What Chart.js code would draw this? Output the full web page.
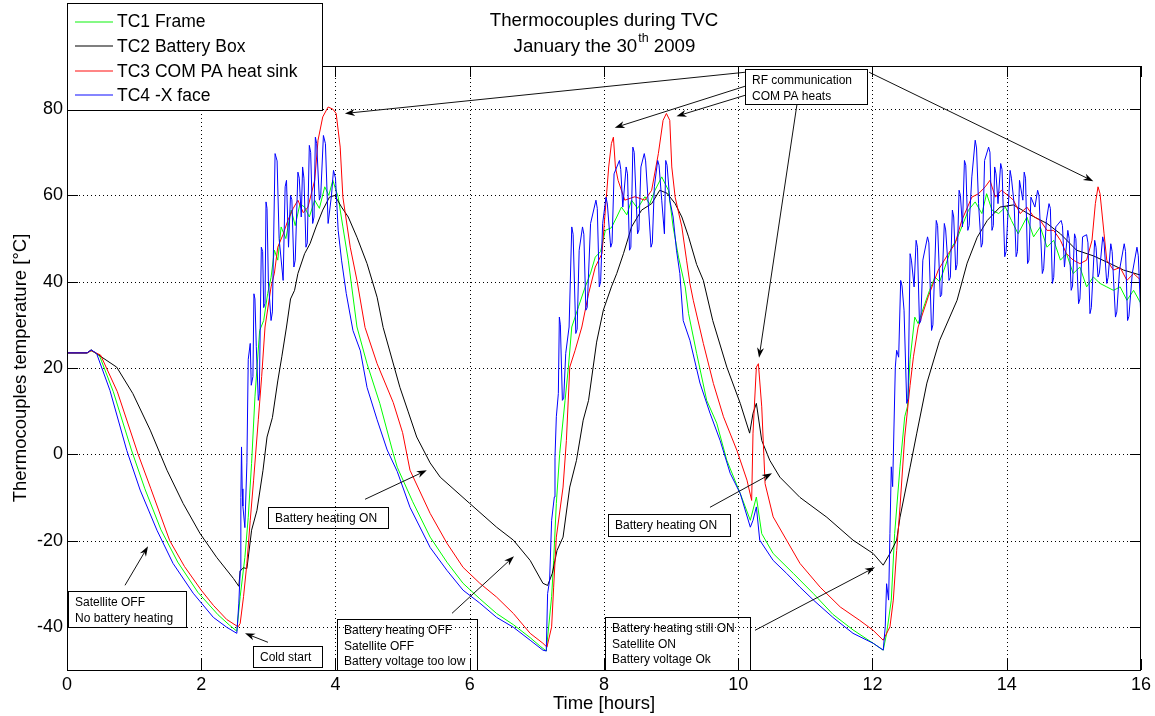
<!DOCTYPE html>
<html>
<head>
<meta charset="utf-8">
<title>Thermocouples during TVC</title>
<script src="https://cdn.jsdelivr.net/npm/chart.js@4.4.0/dist/chart.umd.min.js"></script>
<style>
  html, body { margin: 0; padding: 0; background: #fff; }
  #wrap { width: 1155px; height: 716px; position: relative; }
</style>
</head>
<body>
<div id="wrap"><canvas id="tvcChart"></canvas></div>
<script>
// axis ticks
const hourTicks = [0, 2, 4, 6, 8, 10, 12, 14, 16];
const tempTicks = [-40, -20, 0, 20, 40, 60, 80];

const seriesNames = ['TC1 Frame', 'TC2 Battery Box', 'TC3 COM PA heat sink', 'TC4 -X face'];
const seriesColors = ['#00ff00', '#000000', '#ff0000', '#0000ff'];
const legendColors = ['#5cf75c', '#555555', '#ff5c5c', '#5c5cff'];

// [hours, °C]
const tc1Frame = [
  [0, 23.5], [0.30, 23.5], [0.36, 24.0], [0.48, 23.0], [0.69, 14.5], [0.96, 1.0], [1.16, -8.0], [1.40, -17.5],
  [1.65, -25.0], [1.95, -32.0], [2.25, -37.2], [2.42, -39.6], [2.53, -41.0],
  [2.58, -33.0], [2.65, -23.9], [2.70, -14.6], [2.75, -2.1], [2.80, 13.3], [2.87, 28.7], [2.93, 31.0], [2.99, 37.3],
  [3.04, 41.0], [3.09, 47.3], [3.14, 45.0], [3.19, 52.7], [3.26, 50.0], [3.34, 56.6], [3.40, 53.0], [3.47, 58.0],
  [3.54, 57.3], [3.61, 55.0], [3.69, 58.9], [3.76, 57.0], [3.84, 62.0], [3.90, 60.0], [3.96, 63.5],
  [4.04, 59.6], [4.11, 52.7], [4.19, 45.0], [4.32, 29.5], [4.47, 21.0], [4.66, 11.8], [4.86, 0.2], [4.92, -3.0],
  [5.15, -11.0], [5.41, -19.2], [5.66, -25.0], [5.90, -29.9], [6.15, -33.5], [6.40, -36.9], [6.65, -39.5],
  [6.90, -42.5], [7.05, -44.5], [7.14, -45.6],
  [7.22, -33.0], [7.25, -24.6], [7.29, -11.4], [7.34, 0.2], [7.42, 12.5], [7.47, 20.2], [7.52, 29.5], [7.62, 34.2],
  [7.72, 38.8], [7.80, 42.0], [7.87, 45.7], [7.95, 47.0], [8.02, 51.9], [8.11, 52.5], [8.19, 55.0], [8.26, 57.3],
  [8.34, 55.5], [8.41, 58.9], [8.50, 57.0], [8.61, 59.7], [8.68, 58.0], [8.76, 61.2], [8.86, 64.3], [8.96, 61.2],
  [9.03, 52.7], [9.11, 45.7], [9.21, 38.8], [9.26, 32.6], [9.38, 23.4], [9.53, 12.5], [9.68, 7.2], [9.83, -1.4],
  [10.03, -9.1], [10.18, -15.3], [10.27, -9.9], [10.35, -18.4], [10.52, -23.0], [10.82, -27.6], [11.12, -32.3],
  [11.41, -37.1], [11.71, -40.7], [12.01, -43.8], [12.16, -45.4],
  [12.21, -41.6], [12.28, -33.8], [12.33, -18.4], [12.41, -2.9], [12.48, 8.7], [12.52, 11.0], [12.56, 22.0],
  [12.63, 31.8], [12.68, 30.3], [12.78, 34.9], [12.85, 38.0], [12.93, 41.1], [13.00, 40.0], [13.08, 43.4],
  [13.18, 48.0], [13.25, 49.6], [13.33, 52.7], [13.43, 56.6], [13.53, 58.5], [13.63, 55.8], [13.70, 60.4],
  [13.78, 56.6], [13.88, 55.8], [13.98, 57.3], [14.07, 54.2], [14.17, 51.1], [14.30, 55.0], [14.40, 50.4],
  [14.50, 52.7], [14.60, 48.0], [14.70, 49.6], [14.80, 45.0], [14.89, 46.5], [14.99, 41.9], [15.09, 43.4],
  [15.19, 38.8], [15.29, 41.1], [15.39, 39.6], [15.49, 38.8], [15.59, 38.0], [15.69, 38.8], [15.79, 35.7],
  [15.89, 38.0], [16.0, 34.9]
];

const tc2BatteryBox = [
  [0, 23.5], [0.30, 23.5], [0.36, 24.2], [0.49, 22.8], [0.74, 20.2], [0.98, 14.1], [1.24, 5.6], [1.49, -3.7],
  [1.73, -11.4], [1.98, -18.3], [2.23, -23.9], [2.48, -28.8], [2.56, -30.6],
  [2.58, -27.0], [2.63, -26.3], [2.68, -26.5], [2.75, -17.6], [2.83, -13.0], [2.92, -3.7], [2.98, 4.0], [3.06, 8.5],
  [3.14, 17.0], [3.20, 22.6], [3.27, 29.5], [3.33, 36.0], [3.39, 38.0], [3.44, 41.9], [3.54, 46.5], [3.62, 48.8],
  [3.71, 52.7], [3.81, 56.6], [3.91, 59.6], [3.99, 60.0], [4.09, 57.3], [4.19, 55.0], [4.32, 50.3], [4.47, 44.2],
  [4.62, 36.4], [4.71, 29.4], [4.96, 15.5], [5.08, 10.0], [5.21, 4.0], [5.41, -2.0], [5.56, -5.3], [6.00, -11.4],
  [6.40, -16.9], [6.65, -19.9], [6.90, -24.6], [7.09, -29.9], [7.16, -30.4],
  [7.23, -27.6], [7.30, -22.3], [7.39, -19.2], [7.49, -7.6], [7.59, -1.4], [7.69, 7.9], [7.77, 12.5], [7.89, 26.0],
  [7.99, 33.4], [8.11, 38.8], [8.19, 41.9], [8.29, 46.5], [8.41, 52.7], [8.56, 56.6], [8.71, 58.1], [8.83, 61.2],
  [8.94, 60.5], [9.06, 58.1], [9.16, 55.0], [9.26, 50.4], [9.38, 44.0], [9.48, 40.3], [9.62, 31.0], [9.83, 20.2],
  [10.03, 11.8], [10.17, 4.9], [10.22, 9.5], [10.27, 11.8], [10.35, 3.2], [10.47, -1.4], [10.62, -5.3],
  [10.92, -10.0], [11.32, -14.6], [11.71, -19.9], [12.01, -23.0], [12.16, -25.7],
  [12.26, -23.0], [12.36, -19.9], [12.41, -14.6], [12.56, -3.0], [12.66, 4.9], [12.81, 16.5], [13.00, 26.4],
  [13.26, 35.7], [13.41, 44.3], [13.56, 50.3], [13.71, 54.2], [13.90, 57.3], [14.10, 57.8], [14.35, 55.5],
  [14.60, 53.5], [14.80, 51.1], [15.04, 47.3], [15.29, 46.0], [15.54, 44.2], [15.74, 42.7], [16.0, 41.5]
];

const tc3ComPa = [
  [0, 23.5], [0.30, 23.5], [0.36, 24.0], [0.50, 23.0], [0.75, 14.5], [1.06, 0.0], [1.25, -8.0], [1.53, -20.0],
  [1.75, -26.0], [2.00, -31.5], [2.18, -35.0], [2.38, -38.3], [2.55, -40.0],
  [2.58, -39.2], [2.63, -33.0], [2.68, -25.3], [2.73, -15.3], [2.78, -6.0], [2.85, 8.0], [2.90, 18.0], [2.95, 29.5],
  [3.04, 38.8], [3.09, 42.0], [3.14, 48.0], [3.22, 51.0], [3.29, 54.2], [3.37, 57.0], [3.44, 58.9], [3.52, 56.0],
  [3.59, 57.3], [3.69, 63.5], [3.74, 72.8], [3.81, 78.2], [3.89, 80.5], [3.96, 80.0], [4.01, 79.0], [4.07, 71.2],
  [4.11, 59.6], [4.22, 48.0], [4.32, 40.3], [4.44, 29.4], [4.62, 21.0], [4.86, 12.0], [5.00, 5.0], [5.11, -3.7],
  [5.41, -13.7], [5.66, -20.6], [5.90, -26.2], [6.15, -29.9], [6.40, -33.1], [6.65, -36.9], [6.90, -41.5],
  [7.09, -43.8], [7.15, -44.7],
  [7.22, -40.0], [7.25, -30.8], [7.29, -19.2], [7.39, -7.6], [7.44, 3.2], [7.49, 20.2], [7.57, 24.1], [7.67, 29.5],
  [7.77, 37.2], [7.87, 43.4], [7.97, 46.5], [8.02, 56.6], [8.07, 66.6], [8.11, 72.0], [8.14, 73.5], [8.17, 66.6],
  [8.21, 63.5], [8.31, 58.9], [8.46, 59.7], [8.61, 58.9], [8.71, 61.2], [8.81, 69.7], [8.88, 77.4], [8.93, 79.0],
  [8.98, 77.4], [9.01, 66.6], [9.06, 59.6], [9.16, 52.7], [9.23, 45.0], [9.28, 39.6], [9.33, 35.7], [9.48, 25.7],
  [9.63, 16.4], [9.78, 8.7], [9.98, 0.9], [10.13, -6.0], [10.20, -10.7], [10.22, 4.9], [10.27, 20.2],
  [10.30, 21.0], [10.35, 11.0], [10.40, -6.8], [10.52, -14.5], [10.72, -19.9], [10.92, -25.3], [11.22, -30.8],
  [11.52, -35.4], [11.81, -38.5], [12.01, -40.8], [12.16, -43.1],
  [12.26, -40.0], [12.31, -33.8], [12.36, -22.3], [12.41, -12.2], [12.48, 4.0], [12.56, 16.0], [12.61, 22.6],
  [12.68, 29.5], [12.73, 31.8], [12.83, 36.5], [12.98, 42.7], [13.13, 46.5], [13.23, 48.8], [13.33, 54.2],
  [13.48, 59.6], [13.58, 60.4], [13.68, 62.0], [13.75, 63.5], [13.83, 59.6], [13.92, 61.2], [14.05, 59.6],
  [14.10, 58.9], [14.20, 55.8], [14.30, 57.3], [14.40, 55.1], [14.50, 54.2], [14.60, 51.9], [14.70, 51.9],
  [14.80, 49.6], [14.89, 46.5], [14.99, 45.0], [15.09, 44.2], [15.19, 45.0], [15.27, 49.6], [15.32, 58.1],
  [15.36, 62.0], [15.39, 60.4], [15.45, 51.1], [15.49, 45.0], [15.59, 42.7], [15.69, 43.3], [15.79, 40.3],
  [15.89, 41.9], [16.0, 40.3]
];

const tc4XFace = [
  [0, 23.5], [0.30, 23.5], [0.36, 24.2], [0.44, 23.4], [0.64, 14.8], [0.89, 0.9], [1.09, -8.3], [1.34, -17.6],
  [1.58, -25.3], [1.88, -32.2], [2.18, -37.8], [2.38, -40.1], [2.53, -41.5],
  [2.56, -34.5], [2.58, -27.0], [2.59, -10.0], [2.60, 1.7], [2.61, -8.0], [2.62, -12.0], [2.65, -17.0],
  [2.68, -2.0], [2.70, 22.0], [2.73, 25.7], [2.745, 16.0], [2.77, 18.0], [2.785, 37.2], [2.80, 36.0],
  [2.82, 25.0], [2.85, 12.5], [2.865, 14.0], [2.895, 48.0], [2.915, 47.0], [2.93, 34.0], [2.95, 35.0],
  [2.965, 58.5], [2.98, 57.0], [3.00, 40.0], [3.04, 31.0], [3.06, 33.0], [3.10, 69.7], [3.13, 68.0],
  [3.16, 50.0], [3.22, 40.3], [3.25, 62.0], [3.27, 63.5], [3.30, 48.0], [3.33, 60.0], [3.35, 59.0],
  [3.38, 43.4], [3.40, 45.0], [3.44, 65.4], [3.46, 64.0], [3.49, 55.0], [3.51, 66.6], [3.53, 64.0],
  [3.56, 48.0], [3.58, 49.0], [3.61, 71.6], [3.63, 70.0], [3.66, 53.5], [3.68, 55.0], [3.70, 73.5],
  [3.72, 72.0], [3.76, 58.9], [3.78, 60.0], [3.82, 73.9], [3.85, 72.0], [3.89, 53.5], [3.94, 60.0],
  [3.97, 65.8], [4.00, 64.0], [4.04, 51.9], [4.09, 45.0], [4.16, 37.3], [4.26, 28.7],
  [4.37, 24.0], [4.47, 15.5], [4.62, 8.0], [4.77, 1.0], [4.92, -4.0], [5.11, -12.3], [5.41, -21.6], [5.66, -26.9],
  [5.90, -31.5], [6.15, -34.5], [6.40, -37.8], [6.65, -40.1], [6.90, -43.1], [7.09, -45.4], [7.14, -45.6],
  [7.16, -32.3], [7.19, -29.2], [7.22, -15.3], [7.26, -9.9], [7.27, -0.7], [7.29, 8.7], [7.32, 14.1],
  [7.335, 31.8], [7.35, 30.0], [7.38, 12.5], [7.40, 13.0], [7.43, 23.4], [7.48, 29.5], [7.52, 52.7],
  [7.54, 51.0], [7.58, 28.0], [7.60, 29.0], [7.63, 47.3], [7.68, 52.7], [7.70, 51.0], [7.73, 33.4],
  [7.75, 34.0], [7.80, 53.5], [7.88, 58.9], [7.90, 57.0], [7.93, 38.8], [7.95, 40.0], [7.98, 53.5],
  [8.03, 59.6], [8.05, 58.0], [8.10, 48.0], [8.12, 49.0], [8.15, 65.0], [8.23, 68.1], [8.25, 66.0],
  [8.28, 57.3], [8.33, 66.6], [8.35, 65.0], [8.38, 47.3], [8.40, 48.0], [8.43, 71.2], [8.45, 70.0],
  [8.50, 51.1], [8.52, 52.0], [8.55, 66.6], [8.60, 69.7], [8.62, 68.0], [8.66, 58.1], [8.70, 48.0],
  [8.72, 49.0], [8.75, 62.0], [8.80, 68.1], [8.82, 67.0], [8.86, 58.9], [8.90, 51.1], [8.92, 68.1],
  [8.94, 67.0], [8.98, 58.9], [9.03, 55.0], [9.08, 47.3], [9.13, 41.9], [9.18, 31.0],
  [9.28, 26.4], [9.43, 16.5], [9.58, 9.5], [9.73, 3.2], [9.88, -4.4],
  [10.03, -9.1], [10.18, -16.9], [10.22, -15.3], [10.27, -12.2], [10.32, -19.9], [10.52, -24.6], [10.72, -27.6],
  [10.92, -30.8], [11.12, -33.8], [11.41, -37.8], [11.71, -41.5], [12.01, -43.8], [12.16, -45.4],
  [12.19, -40.0], [12.21, -30.0], [12.24, -33.8], [12.26, -18.4], [12.28, -2.9], [12.30, -7.5], [12.34, 20.2],
  [12.36, 24.1], [12.39, 22.5], [12.42, 40.3], [12.44, 39.0], [12.47, 33.4], [12.51, 11.8], [12.53, 13.0],
  [12.56, 46.5], [12.58, 45.0], [12.62, 38.8], [12.65, 49.6], [12.67, 48.0], [12.70, 30.3], [12.72, 31.0],
  [12.75, 45.0], [12.82, 50.4], [12.84, 49.0], [12.88, 28.7], [12.90, 30.0], [12.95, 54.2], [12.97, 53.0],
  [13.01, 36.5], [13.03, 37.0], [13.07, 53.5], [13.09, 52.0], [13.14, 40.3], [13.16, 41.0], [13.19, 56.6],
  [13.21, 55.0], [13.24, 42.7], [13.26, 44.0], [13.29, 61.2], [13.31, 60.0], [13.34, 52.7], [13.37, 68.1],
  [13.39, 67.0], [13.42, 51.9], [13.44, 53.0], [13.48, 64.3], [13.53, 72.8], [13.55, 71.0], [13.58, 58.1],
  [13.62, 48.0], [13.64, 49.0], [13.67, 68.1], [13.73, 71.2], [13.75, 70.0], [13.78, 51.9], [13.80, 53.0],
  [13.82, 66.6], [13.84, 65.0], [13.87, 58.1], [13.91, 67.4], [13.93, 66.0], [13.97, 45.8], [13.99, 47.0],
  [14.05, 65.8], [14.07, 64.0], [14.11, 58.0], [14.14, 45.8], [14.16, 47.0], [14.19, 63.5], [14.24, 58.9],
  [14.26, 65.4], [14.28, 64.0], [14.31, 44.2], [14.33, 45.0], [14.36, 59.6], [14.42, 57.3], [14.46, 61.2],
  [14.48, 60.0], [14.53, 41.9], [14.55, 43.0], [14.59, 54.2], [14.63, 58.1], [14.65, 57.0], [14.68, 39.6],
  [14.70, 41.0], [14.73, 52.7], [14.81, 54.2], [14.83, 53.0], [14.86, 43.4], [14.91, 51.9], [14.93, 50.0],
  [14.96, 38.0], [14.98, 39.0], [15.01, 51.1], [15.03, 50.0], [15.07, 34.9], [15.09, 36.0], [15.13, 50.4],
  [15.19, 50.9], [15.21, 49.0], [15.24, 32.6], [15.26, 34.0], [15.31, 49.6], [15.33, 48.0], [15.36, 41.1],
  [15.38, 42.0], [15.43, 50.4], [15.45, 49.0], [15.49, 39.6], [15.51, 41.0], [15.55, 48.8], [15.57, 47.0],
  [15.62, 31.8], [15.64, 33.0], [15.68, 42.7], [15.75, 48.8], [15.77, 47.0], [15.80, 31.0], [15.82, 32.0],
  [15.87, 41.9], [15.94, 48.0], [15.96, 46.0], [16.0, 31.0]
];

// text boxes and arrows, corners in [hours, °C]
const notes = [
  { lines: ['RF communication', 'COM PA heats'], from: [10.10, 89.25], to: [11.92, 81.13] },
  { lines: ['Battery heating ON'], from: [2.99, -12.29], to: [4.78, -17.15] },
  { lines: ['Satellite OFF', 'No battery heating'], from: [0.015, -31.76], to: [1.77, -40.10] },
  { lines: ['Cold start'], from: [2.77, -44.51], to: [3.80, -49.37] },
  { lines: ['Battery heating OFF', 'Satellite OFF', 'Battery voltage too low'], from: [4.022, -38.25], to: [6.108, -50.0] },
  { lines: ['Battery heating ON'], from: [8.06, -13.91], to: [9.877, -19.0] },
  { lines: ['Battery heating still ON', 'Satellite ON', 'Battery voltage Ok'], from: [8.015, -37.78], to: [10.175, -50.0] }
];
const arrows = [
  { tail: [10.10, 88.55], head: [4.14, 79.0] },
  { tail: [10.10, 85.3], head: [8.16, 75.7] },
  { tail: [10.10, 83.2], head: [9.08, 78.35] },
  { tail: [10.875, 81.13], head: [10.31, 22.4] },
  { tail: [11.95, 88.55], head: [15.29, 63.3] },
  { tail: [4.44, -10.43], head: [5.36, -3.71] },
  { tail: [0.864, -30.37], head: [1.207, -21.33] },
  { tail: [2.994, -43.58], head: [2.652, -41.49] },
  { tail: [5.736, -36.86], head: [6.659, -23.64] },
  { tail: [9.579, -12.29], head: [10.503, -4.40] },
  { tail: [10.25, -40.8], head: [12.037, -26.19] }
];

const FONT = '"Liberation Sans", Arial, Helvetica, sans-serif';
const toPoints = arr => arr.map(p => ({ x: p[0], y: p[1] }));

function drawArrow(ctx, x0, y0, x1, y1) {
  const ang = Math.atan2(y1 - y0, x1 - x0);
  const c = Math.cos(ang), s = Math.sin(ang);
  const len = 10, half = 3.5, back = 7;
  ctx.beginPath();
  ctx.moveTo(x0, y0);
  ctx.lineTo(x1 - c * back, y1 - s * back);
  ctx.stroke();
  ctx.beginPath();
  ctx.moveTo(x1, y1);
  ctx.lineTo(x1 - len * c + half * s, y1 - len * s - half * c);
  ctx.lineTo(x1 - back * c, y1 - back * s);
  ctx.lineTo(x1 - len * c - half * s, y1 - len * s + half * c);
  ctx.closePath();
  ctx.fill();
}

const matlabLook = {
  id: 'matlabLook',
  beforeDatasetsDraw(chart) {
    const { ctx, chartArea: a, scales: { x, y } } = chart;
    ctx.save();
    ctx.strokeStyle = '#000';
    ctx.lineWidth = 1;
    // dotted grid
    ctx.setLineDash([1, 3]);
    ctx.beginPath();
    hourTicks.forEach(v => {
      if (v <= x.min || v >= x.max) return;
      const px = Math.round(x.getPixelForValue(v)) + 0.5;
      ctx.moveTo(px, a.top); ctx.lineTo(px, a.bottom);
    });
    tempTicks.forEach(v => {
      const py = Math.round(y.getPixelForValue(v)) + 0.5;
      ctx.moveTo(a.left, py); ctx.lineTo(a.right, py);
    });
    ctx.stroke();
    ctx.setLineDash([]);
    // inward ticks on all four sides
    const tl = 11;
    ctx.beginPath();
    hourTicks.forEach(v => {
      const px = Math.round(x.getPixelForValue(v)) + 0.5;
      ctx.moveTo(px, a.bottom); ctx.lineTo(px, a.bottom - tl);
      ctx.moveTo(px, a.top); ctx.lineTo(px, a.top + tl);
    });
    tempTicks.forEach(v => {
      const py = Math.round(y.getPixelForValue(v)) + 0.5;
      ctx.moveTo(a.left, py); ctx.lineTo(a.left + tl, py);
      ctx.moveTo(a.right, py); ctx.lineTo(a.right - tl, py);
    });
    ctx.stroke();
    ctx.restore();
  },
  afterDatasetsDraw(chart) {
    const { ctx, chartArea: a, scales: { x, y } } = chart;
    ctx.save();
    // axes box
    ctx.strokeStyle = '#000';
    ctx.lineWidth = 1;
    ctx.strokeRect(Math.round(a.left) + 0.5, Math.round(a.top) + 0.5,
      Math.round(a.right - a.left) - 1, Math.round(a.bottom - a.top));

    // annotation boxes
    ctx.font = '12px ' + FONT;
    ctx.textBaseline = 'middle';
    ctx.textAlign = 'left';
    ctx.fillStyle = '#000';
    notes.forEach(n => {
      const x0 = Math.round(x.getPixelForValue(n.from[0])) + 0.5;
      const y0 = Math.round(y.getPixelForValue(n.from[1])) + 0.5;
      const x1 = Math.round(x.getPixelForValue(n.to[0])) + 0.5;
      const y1 = Math.round(y.getPixelForValue(n.to[1])) + 0.5;
      ctx.strokeRect(x0, y0, x1 - x0, y1 - y0);
      n.lines.forEach((t, i) => ctx.fillText(t, x0 + 6.5, y0 + 11 + i * 15.7));
    });
    ctx.strokeStyle = '#111';
    ctx.fillStyle = '#000';
    arrows.forEach(r => {
      drawArrow(ctx,
        x.getPixelForValue(r.tail[0]), y.getPixelForValue(r.tail[1]),
        x.getPixelForValue(r.head[0]), y.getPixelForValue(r.head[1]));
    });

    // legend
    const lg = { left: a.left, top: 3, right: 322, bottom: 110 };
    ctx.fillStyle = '#fff';
    ctx.fillRect(lg.left, lg.top, lg.right - lg.left, lg.bottom - lg.top);
    ctx.strokeStyle = '#000';
    ctx.strokeRect(lg.left + 0.5, lg.top + 0.5, lg.right - lg.left, lg.bottom - lg.top);
    ctx.font = '17.5px ' + FONT;
    ctx.textBaseline = 'middle';
    seriesNames.forEach((name, i) => {
      const cy = 21.5 + i * 24.6;
      ctx.strokeStyle = legendColors[i];
      ctx.lineWidth = 1.5;
      ctx.beginPath();
      ctx.moveTo(lg.left + 8, Math.round(cy));
      ctx.lineTo(lg.left + 46, Math.round(cy));
      ctx.stroke();
      ctx.lineWidth = 1;
      ctx.fillStyle = '#000';
      ctx.fillText(name, lg.left + 50, cy + 1);
    });

    // title with superscript
    const cx = (a.left + a.right) / 2;
    ctx.fillStyle = '#000';
    ctx.textBaseline = 'alphabetic';
    ctx.textAlign = 'left';
    const big = '18.7px ' + FONT, small = '12.5px ' + FONT;
    ctx.font = big;
    const t1 = 'Thermocouples during TVC';
    ctx.fillText(t1, cx - ctx.measureText(t1).width / 2, 26);
    const pA = 'January the 30', pB = 'th', pC = ' 2009';
    const wA = ctx.measureText(pA).width, wC = ctx.measureText(pC).width;
    ctx.font = small;
    const wB = ctx.measureText(pB).width;
    const tx = cx - (wA + wB + wC) / 2;
    ctx.font = big;
    ctx.fillText(pA, tx, 52);
    ctx.font = small;
    ctx.fillText(pB, tx + wA + 1, 42);
    ctx.font = big;
    ctx.fillText(pC, tx + wA + wB + 1, 52);
    ctx.restore();
  }
};

const allSeries = [tc1Frame, tc2BatteryBox, tc3ComPa, tc4XFace];

new Chart(document.getElementById('tvcChart'), {
  type: 'line',
  data: {
    datasets: allSeries.map((s, i) => ({
      label: seriesNames[i],
      data: toPoints(s),
      borderColor: seriesColors[i],
      backgroundColor: seriesColors[i],
      borderWidth: 1,
      pointRadius: 0,
      tension: 0,
      fill: false,
      order: 4 - i
    }))
  },
  options: {
    responsive: true,
    maintainAspectRatio: false,
    animation: false,
    layout: { padding: { top: 66, right: 14, left: 0, bottom: 0 } },
    plugins: {
      legend: { display: false },
      title: { display: false },
      tooltip: { enabled: false }
    },
    scales: {
      x: {
        type: 'linear',
        min: 0,
        max: 16,
        afterBuildTicks: s => { s.ticks = hourTicks.map(v => ({ value: v })); },
        afterFit: s => { s.height = 46; },
        grid: { display: false, drawTicks: false },
        border: { display: false },
        ticks: { color: '#000', padding: 4, maxRotation: 0, font: { family: FONT, size: 18 } },
        title: { display: true, text: 'Time [hours]', color: '#000', padding: { top: 0, bottom: 1 }, font: { family: FONT, size: 18.5 } }
      },
      y: {
        type: 'linear',
        min: -50,
        max: 90,
        afterBuildTicks: s => { s.ticks = tempTicks.map(v => ({ value: v })); },
        afterFit: s => { s.width = 67; },
        grid: { display: false, drawTicks: false },
        border: { display: false },
        ticks: { color: '#000', padding: 4, font: { family: FONT, size: 18 } },
        title: { display: true, text: 'Thermocouples temperature [°C]', color: '#000', padding: { top: 10, bottom: 0 }, font: { family: FONT, size: 18.5 } }
      }
    }
  },
  plugins: [matlabLook]
});
</script>
</body>
</html>
